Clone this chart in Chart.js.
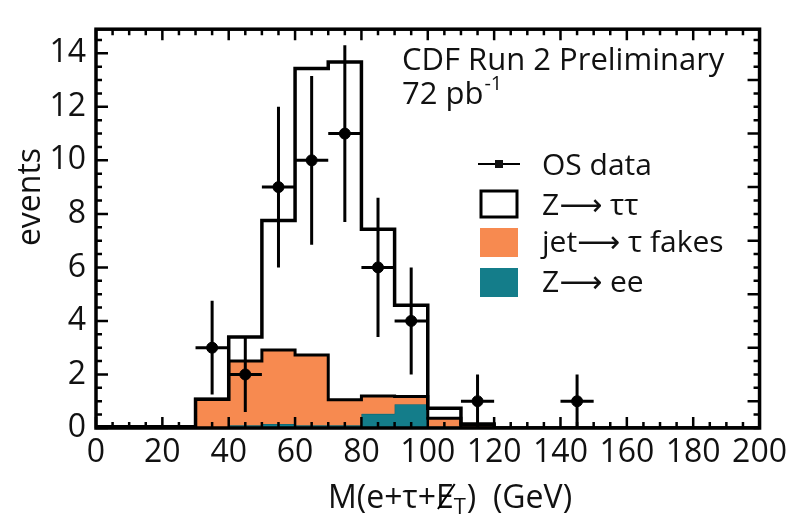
<!DOCTYPE html>
<html>
<head>
<meta charset="utf-8">
<script src="https://cdn.jsdelivr.net/npm/chart.js@4/dist/chart.umd.min.js"></script>
<style>
  body { margin: 0; background: #fff; }
  #wrap { width: 793px; height: 517px; position: relative; }
</style>
</head>
<body>
<div id="wrap"><canvas id="chart"></canvas></div>
<script>
/*************** Data **********************************/

// histogram bin low edges (GeV), last one closes the histogram
var binEdges = [0, 10, 20, 30, 40, 50, 60, 70, 80, 90, 100, 110, 120];

// events per bin, each component on its own (stacked later)
var zeeEvents   = [0, 0, 0, 0, 0.10, 0.15, 0.10, 0.10, 0.53, 0.89, 0.05, 0.02];
var fakeEvents  = [0.02, 0.02, 0.02, 1.07, 2.40, 2.76, 2.63, 0.96, 0.67, 0.29, 0.31, 0.08];
var zttEvents   = [0.03, 0.03, 0.03, 0, 0.90, 4.84, 10.70, 12.61, 6.23, 3.41, 0.38, 0.05];

// OS data points
var dataMass   = [35, 45, 55, 65, 75, 85, 95, 115, 145];
var dataCounts = [3, 2, 9, 10, 11, 6, 4, 1, 1];
var dataErr    = [1.75, 1.4, 3, 3.15, 3.3, 2.6, 2, 1, 1];

var xTickLabels = [0, 20, 40, 60, 80, 100, 120, 140, 160, 180, 200];
var yTickLabels = [0, 2, 4, 6, 8, 10, 12, 14];

var seriesLabels = ['Z\u27F6 \u03C4\u03C4', 'jet\u27F6 \u03C4 fakes', 'Z\u27F6 ee', 'OS data'];

/*************** Building stacked step lines ****************/

function stepPoints(values) {
    var pts = [], it;
    for (it = 0; it < values.length; it++) {
        pts.push({x: binEdges[it], y: values[it]});
    }
    pts.push({x: binEdges[values.length], y: values[values.length - 1]});
    pts.push({x: binEdges[values.length], y: 0});
    pts.push({x: 200, y: 0});
    return pts;
}

function addUp(a, b) {
    var out = [], it;
    for (it = 0; it < a.length; it++) out.push(a[it] + b[it]);
    return out;
}

var cumEe = zeeEvents.slice();
var cumFakes = addUp(cumEe, fakeEvents);
var cumAll = addUp(cumFakes, zttEvents);

var pointsData = [];
for (var i = 0; i < dataMass.length; i++) {
    pointsData.push({x: dataMass[i], y: dataCounts[i]});
}

var FONT = "'Open Sans', 'DejaVu Sans', sans-serif";
var ORANGE = '#f78a50';
var TEAL = '#147d8a';

/*************** Drawing helpers (frame, ticks, texts) ****************/

var decoPlugin = {
    id: 'deco',
    afterDatasetsDraw: function (chart) {
        var ctx = chart.ctx, xs = chart.scales.x, ys = chart.scales.y, it;
        ctx.save();
        ctx.strokeStyle = '#000';
        ctx.lineWidth = 3;
        for (it = 0; it < dataMass.length; it++) {
            var px = xs.getPixelForValue(dataMass[it]);
            var py = ys.getPixelForValue(dataCounts[it]);
            ctx.beginPath();
            ctx.moveTo(xs.getPixelForValue(dataMass[it] - 5), py);
            ctx.lineTo(xs.getPixelForValue(dataMass[it] + 5), py);
            ctx.moveTo(px, ys.getPixelForValue(dataCounts[it] + dataErr[it]));
            ctx.lineTo(px, ys.getPixelForValue(Math.max(0, dataCounts[it] - dataErr[it])));
            ctx.stroke();
        }
        ctx.restore();
    },
    afterDraw: function (chart) {
        var ctx = chart.ctx, xs = chart.scales.x, ys = chart.scales.y;
        var a = chart.chartArea, v, len, p;
        ctx.save();
        ctx.strokeStyle = '#000';
        ctx.fillStyle = '#111';

        // inward ticks
        ctx.lineWidth = 2.5;
        ctx.beginPath();
        for (v = 0; v <= 200; v += 5) {
            p = xs.getPixelForValue(v);
            len = (v % 20 === 0) ? 11 : 6;
            ctx.moveTo(p, a.bottom); ctx.lineTo(p, a.bottom - len);
            ctx.moveTo(p, a.top); ctx.lineTo(p, a.top + len);
        }
        for (v = 0; v <= 14.9; v += 0.5) {
            p = ys.getPixelForValue(v);
            len = (v % 2 === 0) ? 12 : 6;
            ctx.moveTo(a.left, p); ctx.lineTo(a.left + len, p);
            len = (v % 2 === 1) ? 12 : 6;
            ctx.moveTo(a.right, p); ctx.lineTo(a.right - len, p);
        }
        ctx.stroke();

        // frame
        ctx.lineWidth = 3.5;
        ctx.strokeRect(a.left, a.top, a.right - a.left, a.bottom - a.top);

        // header text
        ctx.textBaseline = 'alphabetic';
        ctx.textAlign = 'left';
        ctx.font = '31px ' + FONT;
        ctx.fillText('CDF Run 2 Preliminary', 402, 70);
        ctx.fillText('72 pb', 402, 104);
        var w = ctx.measureText('72 pb').width;
        ctx.font = '20px ' + FONT;
        ctx.fillText('-1', 402 + w + 1, 90);

        // legend
        var ds = chart.data.datasets;
        ctx.font = '30px ' + FONT;
        ctx.lineWidth = 2;
        ctx.beginPath();
        ctx.moveTo(478, 164); ctx.lineTo(520, 164);
        ctx.stroke();
        ctx.fillRect(495, 160, 8, 8);
        ctx.fillText(ds[3].label, 542, 175);

        ctx.lineWidth = 3;
        ctx.strokeRect(481, 191, 36, 26);
        ctx.fillText(ds[2].label, 542, 215);

        ctx.fillStyle = ORANGE;
        ctx.fillRect(480, 228, 38, 29);
        ctx.fillStyle = '#111';
        ctx.fillText(ds[1].label, 542, 252);

        ctx.fillStyle = TEAL;
        ctx.fillRect(480, 268, 38, 29);
        ctx.fillStyle = '#111';
        ctx.fillText(ds[0].label, 542, 292);

        // x axis title with missing-ET symbol
        var x0 = 328, yb = 508;
        ctx.font = '32px ' + FONT;
        ctx.fillText('M(e+\u03C4+', x0, yb);
        x0 += ctx.measureText('M(e+\u03C4+').width;
        ctx.fillText('E', x0, yb);
        var ew = ctx.measureText('E').width;
        ctx.lineWidth = 2;
        ctx.beginPath();
        ctx.moveTo(x0 + 2, yb + 1); ctx.lineTo(x0 + ew + 1, yb - 24);
        ctx.stroke();
        x0 += ew;
        ctx.font = '22px ' + FONT;
        ctx.fillText('T', x0, yb + 6);
        x0 += ctx.measureText('T').width + 1;
        ctx.font = '32px ' + FONT;
        ctx.fillText(')  (GeV)', x0, yb);

        // y axis title
        ctx.save();
        ctx.translate(40, 197);
        ctx.rotate(-Math.PI / 2);
        ctx.textAlign = 'center';
        ctx.fillText('events', 0, 0);
        ctx.restore();

        ctx.restore();
    }
};

/*************** Creating chart ****************/

var chart = new Chart(document.getElementById('chart'), {
    type: 'line',
    data: {
        datasets: [
            {
                label: seriesLabels[2],
                data: stepPoints(cumEe),
                stepped: 'before',
                borderColor: '#0c5a64',
                borderWidth: 1,
                backgroundColor: TEAL,
                fill: 'origin',
                pointRadius: 0,
                order: 3
            },
            {
                label: seriesLabels[1],
                data: stepPoints(cumFakes),
                stepped: 'before',
                borderColor: '#000',
                borderWidth: 3,
                backgroundColor: ORANGE,
                fill: '-1',
                pointRadius: 0,
                order: 2
            },
            {
                label: seriesLabels[0],
                data: stepPoints(cumAll),
                stepped: 'before',
                borderColor: '#000',
                borderWidth: 3.5,
                fill: false,
                pointRadius: 0,
                order: 1
            },
            {
                label: seriesLabels[3],
                data: pointsData,
                showLine: false,
                pointRadius: 5.5,
                pointBackgroundColor: '#000',
                pointBorderColor: '#000',
                order: 0
            }
        ]
    },
    options: {
        responsive: true,
        maintainAspectRatio: false,
        animation: false,
        layout: { padding: { top: 13, right: 30, left: 0, bottom: 0 } },
        plugins: {
            legend: { display: false },
            tooltip: { enabled: false }
        },
        scales: {
            x: {
                type: 'linear',
                min: 0,
                max: 200,
                afterBuildTicks: function (scale) {
                    scale.ticks = xTickLabels.map(function (v) { return {value: v}; });
                },
                afterFit: function (scale) { scale.height = 89; },
                grid: { display: false, drawTicks: false },
                border: { display: false },
                ticks: {
                    maxRotation: 0,
                    autoSkip: false,
                    padding: 6,
                    color: '#111',
                    font: { family: FONT, size: 32 }
                }
            },
            y: {
                min: 0,
                max: 14.9,
                afterBuildTicks: function (scale) {
                    scale.ticks = yTickLabels.map(function (v) { return {value: v}; });
                },
                afterFit: function (scale) { scale.width = 96; },
                grid: { display: false, drawTicks: false },
                border: { display: false },
                ticks: {
                    autoSkip: false,
                    padding: 10,
                    color: '#111',
                    font: { family: FONT, size: 32 }
                }
            }
        }
    },
    plugins: [decoPlugin]
});
</script>
</body>
</html>
